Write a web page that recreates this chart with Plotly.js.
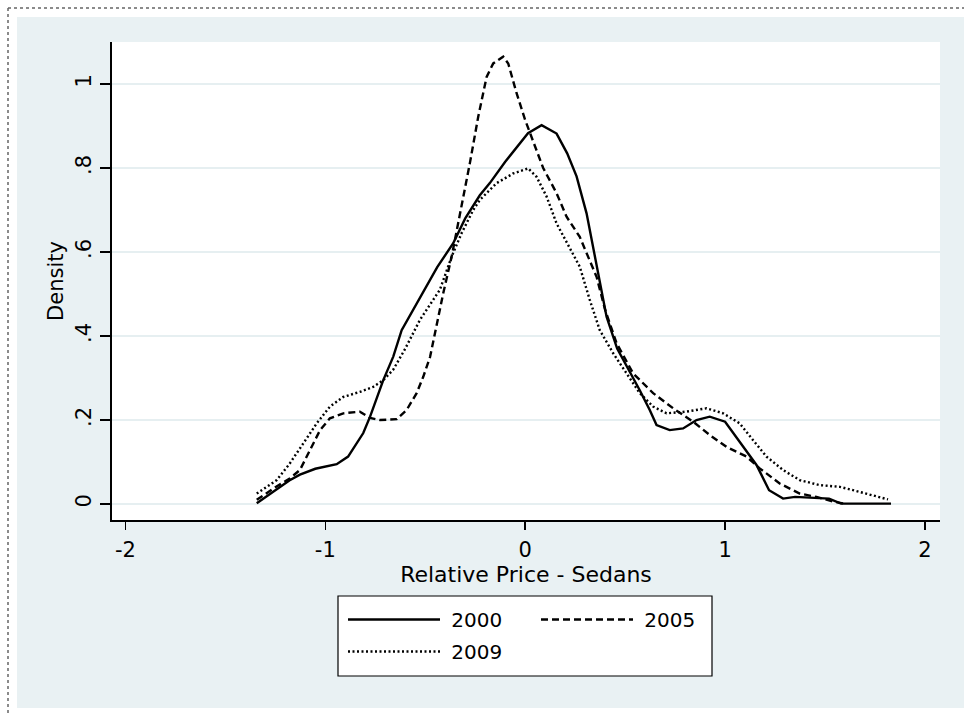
<!DOCTYPE html>
<html>
<head>
<meta charset="utf-8">
<script src="https://cdn.plot.ly/plotly-3.0.1.min.js"></script>
<style>html,body{margin:0;padding:0;background:#fff;}#chart{width:964px;height:713px;}</style>
</head>
<body>
<div id="chart"></div>
<script>
// ---- data ----
const seriesNames = ["2000", "2005", "2009"];

const x2000 = [-1.343,-1.25,-1.18,-1.127,-1.05,-0.943,-0.886,-0.81,-0.776,-0.71,-0.66,-0.618,-0.56,-0.5,-0.44,-0.36,-0.3,-0.227,-0.177,-0.1,0.014,0.082,0.157,0.21,0.257,0.307,0.357,0.407,0.46,0.52,0.573,0.623,0.657,0.723,0.79,0.857,0.923,1.0,1.09,1.157,1.22,1.29,1.35,1.52,1.58,1.83];
const y2000 = [0.002,0.032,0.056,0.07,0.084,0.095,0.113,0.169,0.208,0.295,0.351,0.414,0.462,0.515,0.564,0.621,0.68,0.735,0.764,0.815,0.883,0.902,0.882,0.835,0.78,0.692,0.565,0.446,0.37,0.319,0.271,0.224,0.188,0.176,0.18,0.2,0.208,0.196,0.136,0.093,0.033,0.013,0.017,0.013,0.001,0.001];

const x2005 = [-1.343,-1.25,-1.18,-1.127,-1.026,-0.977,-0.91,-0.827,-0.776,-0.727,-0.643,-0.593,-0.543,-0.51,-0.476,-0.41,-0.368,-0.335,-0.3,-0.277,-0.235,-0.193,-0.16,-0.11,-0.085,-0.043,0.0,0.032,0.09,0.157,0.207,0.273,0.323,0.357,0.4,0.457,0.54,0.64,0.74,0.84,0.924,1.007,1.107,1.173,1.273,1.373,1.457,1.54,1.607];
const y2005 = [0.01,0.04,0.06,0.081,0.176,0.204,0.216,0.22,0.205,0.2,0.202,0.224,0.264,0.303,0.35,0.502,0.589,0.669,0.76,0.811,0.922,1.017,1.049,1.065,1.049,0.978,0.914,0.875,0.8,0.74,0.684,0.636,0.581,0.541,0.462,0.383,0.311,0.264,0.228,0.196,0.164,0.136,0.113,0.085,0.049,0.025,0.017,0.006,0.0];

const x2009 = [-1.343,-1.243,-1.177,-1.11,-1.043,-0.977,-0.91,-0.827,-0.76,-0.71,-0.66,-0.6,-0.527,-0.427,-0.368,-0.318,-0.26,-0.227,-0.143,-0.06,0.015,0.057,0.107,0.157,0.207,0.273,0.323,0.373,0.44,0.507,0.573,0.64,0.707,0.807,0.907,0.99,1.073,1.14,1.207,1.29,1.373,1.473,1.573,1.64,1.74,1.815];
const y2009 = [0.025,0.057,0.097,0.144,0.192,0.232,0.255,0.267,0.279,0.295,0.32,0.37,0.438,0.51,0.589,0.645,0.7,0.724,0.764,0.787,0.799,0.779,0.732,0.668,0.625,0.565,0.486,0.414,0.359,0.311,0.264,0.232,0.216,0.22,0.228,0.216,0.192,0.152,0.113,0.081,0.057,0.045,0.041,0.033,0.021,0.011];

const xTickVals = [-2, -1, 0, 1, 2];
const xTickText = ["-2", "-1", "0", "1", "2"];
const yTickVals = [0, 0.2, 0.4, 0.6, 0.8, 1];
const yTickText = ["0", ".2", ".4", ".6", ".8", "1"];

// ---- layout geometry (pixels) ----
const W = 964, H = 713, ML = 112, MR = 24, MT = 42, MB = 193;
const PW = W - ML - MR, PH = H - MT - MB;
const px = v => (v - ML) / PW;          // pixel x -> paper x
const py = v => (H - MB - v) / PH;      // pixel y -> paper y

const FONT = "DejaVu Sans, Arial, sans-serif";
const BG = "#e9f1f3";
const NB = "\u00a0";

const traces = [
  {x: x2000, y: y2000, name: NB + seriesNames[0], mode: "lines", legend: "legend",
   line: {color: "#000", width: 2.4}},
  {x: x2005, y: y2005, name: NB + seriesNames[1], mode: "lines", legend: "legend",
   line: {color: "#000", width: 2.4, dash: "7px,4px"}},
  {x: x2009, y: y2009, name: NB + seriesNames[2], mode: "lines", legend: "legend2",
   line: {color: "#000", width: 2.4, dash: "2px,2.5px"}}
];

const shapes = [
  // white outer strips
  {type: "rect", xref: "paper", yref: "paper", x0: px(0), x1: px(W), y0: py(0), y1: py(17), fillcolor: "#fff", line: {width: 0}, layer: "above"},
  {type: "rect", xref: "paper", yref: "paper", x0: px(0), x1: px(17), y0: py(0), y1: py(H), fillcolor: "#fff", line: {width: 0}, layer: "above"},
  {type: "rect", xref: "paper", yref: "paper", x0: px(0), x1: px(W), y0: py(708), y1: py(H), fillcolor: "#fff", line: {width: 0}, layer: "above"},
  // dotted frame
  {type: "line", xref: "paper", yref: "paper", x0: px(8), x1: px(W), y0: py(8), y1: py(8), line: {color: "#666", width: 1.5, dash: "dot"}, layer: "above"},
  {type: "line", xref: "paper", yref: "paper", x0: px(8), x1: px(8), y0: py(8), y1: py(H), line: {color: "#666", width: 1.5, dash: "dot"}, layer: "above"},
  // legend box
  {type: "rect", xref: "paper", yref: "paper", x0: px(338), x1: px(712), y0: py(676), y1: py(596), fillcolor: "#fff", line: {color: "#000", width: 1.2}, layer: "above"}
];

const layout = {
  width: W, height: H,
  margin: {l: ML, r: MR, t: MT, b: MB, pad: 0},
  paper_bgcolor: BG,
  plot_bgcolor: "#fff",
  font: {family: FONT, size: 21, color: "#000"},
  showlegend: true,
  xaxis: {
    range: [-2.067, 2.075], fixedrange: true,
    tickvals: xTickVals, ticktext: xTickText,
    ticks: "outside", ticklen: 8, tickwidth: 1.5, tickcolor: "#000",
    showline: true, linecolor: "#000", linewidth: 2,
    showgrid: false, zeroline: false,
    tickfont: {family: FONT, size: 21, color: "#000"},
    ticklabelstandoff: 2,
    title: {text: "Relative Price - Sedans", font: {family: FONT, size: 22, color: "#000"}, standoff: 0},
    automargin: false
  },
  yaxis: {
    range: [-0.038, 1.1], fixedrange: true,
    tickvals: yTickVals, ticktext: yTickText, tickangle: -90,
    ticks: "outside", ticklen: 10, tickwidth: 1.5, tickcolor: "#000",
    showline: true, linecolor: "#000", linewidth: 2,
    showgrid: true, gridcolor: "#e6eff1", gridwidth: 2.5,
    zeroline: false,
    tickfont: {family: FONT, size: 21, color: "#000"},
    ticklabelstandoff: 1,
    title: {text: "Density", font: {family: FONT, size: 21, color: "#000"}, standoff: 2},
    automargin: false
  },
  legend: {
    orientation: "h", x: px(343), y: py(600), xanchor: "left", yanchor: "top",
    bgcolor: "rgba(0,0,0,0)", borderwidth: 0,
    font: {family: FONT, size: 20, color: "#000"},
    itemwidth: 92, entrywidth: 86, entrywidthmode: "pixels",
    itemclick: false, itemdoubleclick: false
  },
  legend2: {
    orientation: "h", x: px(343), y: py(632), xanchor: "left", yanchor: "top",
    bgcolor: "rgba(0,0,0,0)", borderwidth: 0,
    font: {family: FONT, size: 20, color: "#000"},
    itemwidth: 92,
    itemclick: false, itemdoubleclick: false
  },
  shapes: shapes
};

Plotly.newPlot("chart", traces, layout, {displayModeBar: false, staticPlot: true});
</script>
</body>
</html>
